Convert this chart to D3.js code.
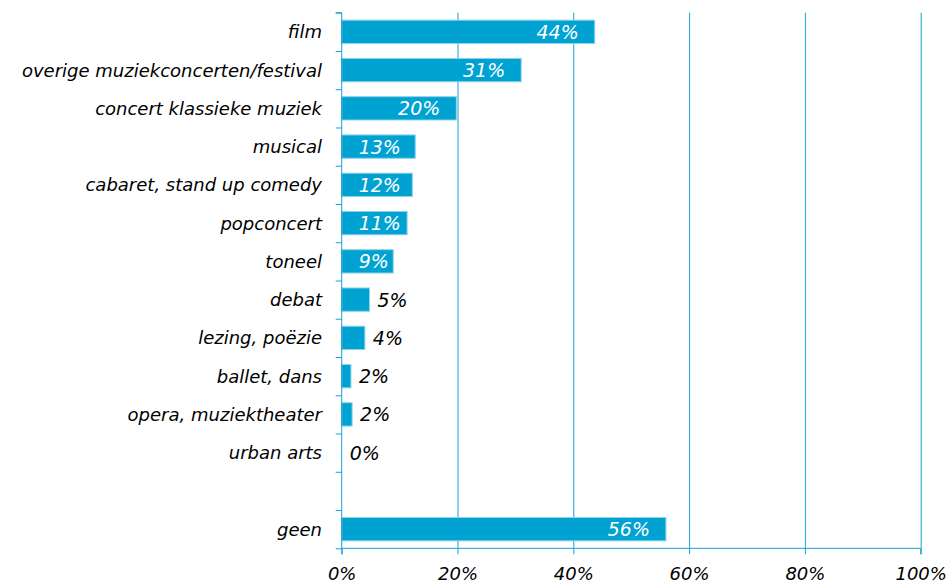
<!DOCTYPE html>
<html><head><meta charset="utf-8">
<script src="https://cdn.jsdelivr.net/npm/d3@7"></script>
<style>
body{margin:0;background:#fff;}
text{font-family:"DejaVu Sans",Verdana,sans-serif;font-style:italic;}
</style></head>
<body><svg id="c" width="952" height="583"></svg>
<script>
const categories = ["film","overige muziekconcerten/festival","concert klassieke muziek","musical","cabaret, stand up comedy","popconcert","toneel","debat","lezing, poëzie","ballet, dans","opera, muziektheater","urban arts","","geen"];
const values = [43.7,31.0,19.8,12.7,12.2,11.3,8.9,4.8,4.0,1.6,1.8,0,null,56.0];
const labels = ["44%","31%","20%","13%","12%","11%","9%","5%","4%","2%","2%","0%",null,"56%"];
const xTicks = [0,20,40,60,80,100];

const svg = d3.select("#c");
const x0 = 341.7, x1 = 920.7, yTop = 12.7, yBot = 548.3;
const x = d3.scaleLinear().domain([0,100]).range([x0,x1]);
const y = d3.scaleBand().domain(d3.range(categories.length)).range([yTop,yBot]).paddingInner(0.39).paddingOuter(0.195);
const lineCol = "#1ba0d3", barCol = "#00a2d2";

// gridlines
svg.append("g").selectAll("line").data(xTicks.filter(d=>d>0)).join("line")
  .attr("x1",d=>x(d)+0.5).attr("x2",d=>x(d)+0.5).attr("y1",yTop).attr("y2",yBot)
  .attr("stroke",lineCol).attr("stroke-width",1);

// bars
const idx = d3.range(categories.length).filter(i=>values[i]!==null);
svg.append("g").selectAll("rect").data(idx).join("rect")
  .attr("x",x0).attr("y",i=>y(i)).attr("width",i=>Math.max(0,x(values[i])-x0)).attr("height",y.bandwidth())
  .attr("fill",barCol).attr("stroke",i=>values[i]>0?"#8fd3ec":"none").attr("stroke-width",1);

// y axis
const yAxis = d3.axisLeft(d3.scaleLinear().domain([0,categories.length]).range([yTop,yBot]))
  .tickValues(d3.range(categories.length+1)).tickSize(6).tickFormat("");
const ga = svg.append("g").attr("transform",`translate(${x0},0)`).call(yAxis);
ga.selectAll("line,path").attr("stroke",lineCol);
ga.select(".domain").attr("d",`M-6,${yTop}H0V${yBot}`);

// x axis
const xAxis = d3.axisBottom(x).tickValues(xTicks).tickSize(6).tickFormat(d=>d+"%");
const gx = svg.append("g").attr("transform",`translate(0,${yBot})`).call(xAxis);
gx.selectAll("line,path").attr("stroke",lineCol);
gx.select(".domain").attr("d",`M${x0},6V0H${x1}V6`);
gx.selectAll("text").attr("font-size",18).attr("fill","#000").attr("dy",null).attr("y",31.5)
  .attr("font-family","DejaVu Sans").attr("font-style","italic");

// category labels
svg.append("g").selectAll("text").data(d3.range(categories.length)).join("text")
  .attr("x",322).attr("y",i=>y(i)+y.bandwidth()/2).attr("dy","0.36em")
  .attr("text-anchor","end").attr("font-size",18).attr("fill","#000").text(i=>categories[i]);

// value labels
const vl = svg.append("g").selectAll("text").data(idx).join("text")
  .attr("y",i=>y(i)+y.bandwidth()/2).attr("dy","0.37em").attr("font-size",19)
  .text(i=>labels[i]);
vl.each(function(i){
  const t = d3.select(this);
  const w = this.getComputedTextLength();
  if (values[i] >= 8) {
    const end = Math.max(x(values[i]) - 16, x0 + 17 + w);
    t.attr("x", end).attr("text-anchor","end").attr("fill","#fff");
  } else {
    t.attr("x", x(values[i]) + 8).attr("text-anchor","start").attr("fill","#000");
  }
});
</script></body></html>
